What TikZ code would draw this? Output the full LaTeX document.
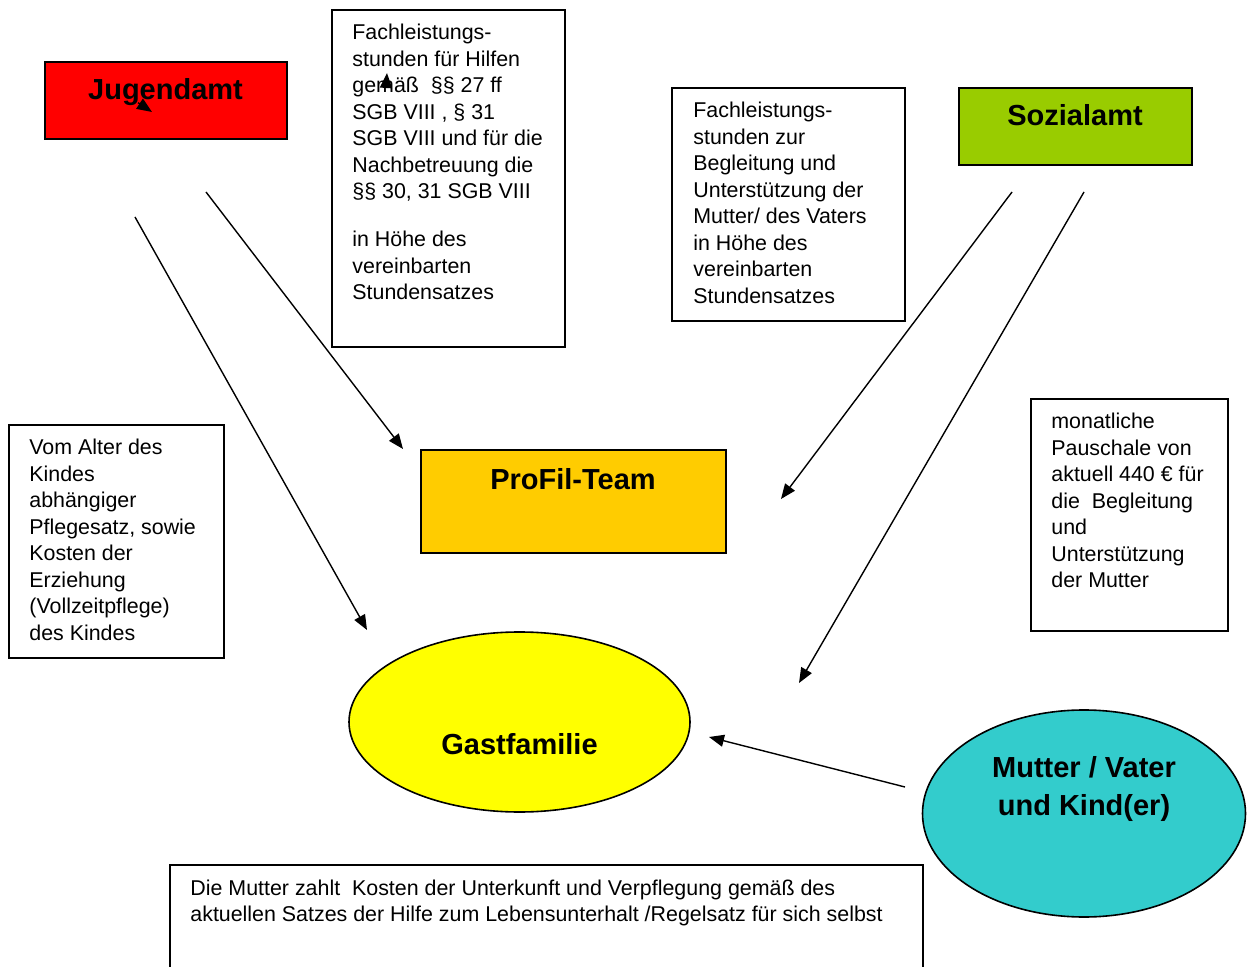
\documentclass[tikz,border=0pt]{standalone}
\usepackage{fontspec}
\setmainfont{Liberation Sans}
\usetikzlibrary{arrows.meta}

\definecolor{amtrot}{HTML}{FF0000}
\definecolor{amtgruen}{HTML}{99CC00}
\definecolor{teamgelb}{HTML}{FFCC00}
\definecolor{familiegelb}{HTML}{FFFF00}
\definecolor{muttertuerkis}{HTML}{33CCCC}

\begin{document}
\begin{tikzpicture}[x=0.5pt,y=-0.5pt,
    textbox/.style={draw,line width=0.6pt},
    colbox/.style={draw,line width=0.9pt},
    blocktext/.style={anchor=north west,align=left,inner sep=0pt,
      font=\fontsize{10.7}{13.25}\selectfont},
    titletext/.style={anchor=base,inner sep=0pt,font=\fontsize{14.5}{19}\selectfont\bfseries},
    pfeil/.style={-{Triangle[length=7.5pt,width=6pt]},line width=0.7pt}]
    \useasboundingbox (0,0) rectangle (1247,967);

    \draw[colbox,fill=amtrot] (45,62) rectangle (287,139);
    \node[titletext] (jugendamt) at (165.5,99.7) {Jugendamt};
    \draw[colbox,fill=amtgruen] (959,88) rectangle (1192,165);
    \node[titletext] (sozialamt) at (1075,126) {Sozialamt};
    \draw[colbox,fill=teamgelb] (421,450) rectangle (726,553);
    \node[titletext] (profil) at (573,490) {ProFil-Team};
    \draw[line width=0.8pt,fill=familiegelb] (519.5,722) ellipse [x radius=170.5, y radius=90];
    \node[titletext] (gastfamilie) at (519.5,754.5) {Gastfamilie};
    \draw[line width=0.8pt,fill=muttertuerkis] (1084,813.5) ellipse [x radius=161.5, y radius=103.5];
    \node[titletext,align=center] (mutter) at (1084,815.5) {Mutter / Vater\\und Kind(er)};

    \draw[textbox] (332,10) rectangle (565,347);
    \node[blocktext] (hilfentext) at (352,24) {Fachleistungs-\\stunden für Hilfen\\gemäß~~§§ 27 ff\\SGB VIII , § 31\\SGB VIII und für die\\Nachbetreuung die\\§§ 30, 31 SGB VIII\\[10.75pt]in Höhe des\\vereinbarten\\Stundensatzes};
    \draw[textbox] (672,88) rectangle (905,321);
    \node[blocktext] (begleittext) at (693,102) {Fachleistungs-\\stunden zur\\Begleitung und\\Unterstützung der\\Mutter/ des Vaters\\in Höhe des\\vereinbarten\\Stundensatzes};
    \draw[textbox] (9,425) rectangle (224,658);
    \node[blocktext] (pflegetext) at (29,438.6) {Vom Alter des\\Kindes\\abhängiger\\Pflegesatz, sowie\\Kosten der\\Erziehung\\(Vollzeitpflege)\\des Kindes};
    \draw[textbox] (1031,399) rectangle (1228,631);
    \node[blocktext] (pauschaletext) at (1051,412.6) {monatliche\\Pauschale von\\aktuell 440 € für\\die~~Begleitung\\und\\Unterstützung\\der Mutter};
    \draw[textbox] (170,967) -- (170,865) -- (923,865) -- (923,967);
    \node[blocktext,font=\fontsize{10.7}{13}\selectfont] (muttertext) at (190,879.6) {Die Mutter zahlt~~Kosten der Unterkunft und Verpflegung gemäß des\\aktuellen Satzes der Hilfe zum Lebensunterhalt /Regelsatz für sich selbst};

    \coordinate (jugend1) at (135,217);
    \coordinate (jugend2) at (206,192);
    \coordinate (sozial1) at (1012,192);
    \coordinate (sozial2) at (1084,192);
    \coordinate (mutterab) at (905,787);
    \coordinate (gastein1) at (367,630);
    \coordinate (gastein2) at (799,683);
    \coordinate (gastein3) at (709,737);
    \coordinate (teamein1) at (403,449);
    \coordinate (teamein2) at (781,499);
    \draw[pfeil] (jugend1) -- (gastein1);
    \draw[pfeil] (jugend2) -- (teamein1);
    \draw[pfeil] (sozial1) -- (teamein2);
    \draw[pfeil] (sozial2) -- (gastein2);
    \draw[pfeil] (mutterab) -- (gastein3);
    \coordinate (rest1) at (138,102.7);
    \coordinate (rest1b) at (152,112);
    \coordinate (rest2) at (386,88);
    \coordinate (rest2b) at (387,73);
    \draw[pfeil] (rest1) -- (rest1b);
    \draw[pfeil] (rest2) -- (rest2b);
\end{tikzpicture}
\end{document}
